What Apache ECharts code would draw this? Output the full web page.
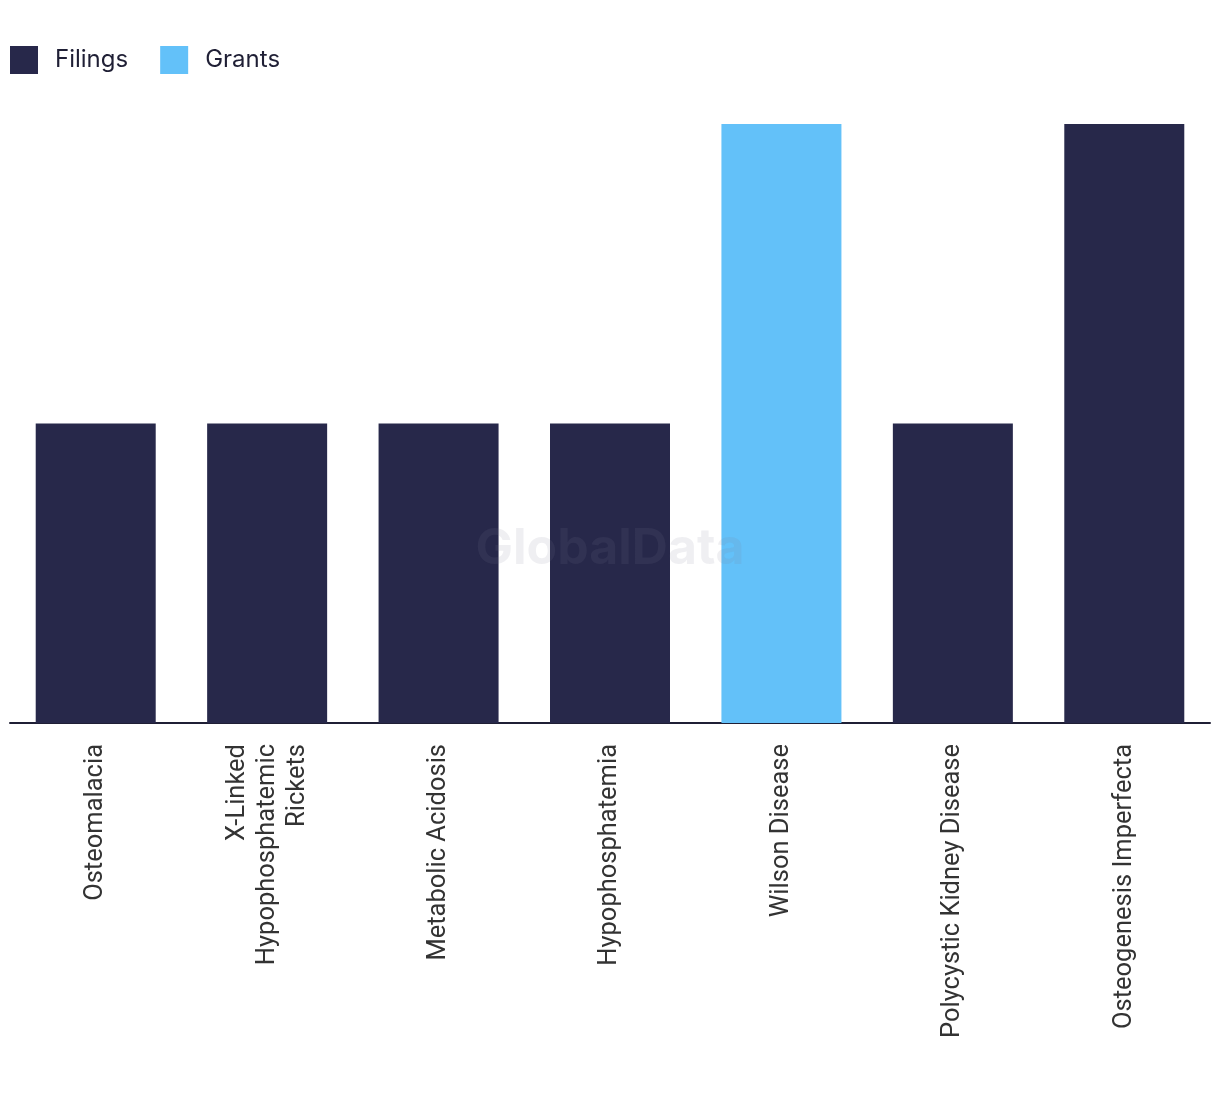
<!DOCTYPE html>
<html><head><meta charset="utf-8">
<script src="https://cdn.jsdelivr.net/npm/echarts@6/dist/echarts.min.js"></script>
<style>html,body{margin:0;padding:0;background:#fff}#c{width:1220px;height:1094px}</style>
</head><body><div id="c"></div>
<script>
const categories = ["Osteomalacia","X-Linked\nHypophosphatemic\nRickets","Metabolic Acidosis","Hypophosphatemia","Wilson Disease","Polycystic Kidney Disease","Osteogenesis Imperfecta"];
const filings = [1,1,1,1,0,1,2];
const grants = [0,0,0,0,2,0,0];
const chart = echarts.init(document.getElementById('c'));
chart.setOption({
  animation:false,
  legend:{left:10,top:46,padding:0,itemWidth:28,itemHeight:28,itemGap:32,icon:'rect',
    textStyle:{fontFamily:'Inter',fontSize:24,color:'#1f1f35',padding:[0,0,0,12]},
    data:['Filings','Grants']},
  graphic:[{type:'text',left:'center',top:524,style:{text:'GlobalData',fontFamily:'Inter',fontWeight:'bold',fontSize:50,fill:'rgba(120,120,150,0.12)'}, z:100}],
  grid:{left:10,right:10,top:124,bottom:371,containLabel:false},
  xAxis:{type:'category',data:categories,
    axisLine:{lineStyle:{color:'#1f1f35',width:2}},axisTick:{show:false},
    axisLabel:{rotate:90,interval:0,margin:21,fontFamily:'Roboto',fontSize:25.5,color:'#333',lineHeight:30}},
  yAxis:{type:'value',min:0,max:2,show:false,splitLine:{show:false}},
  series:[
    {name:'Filings',type:'bar',stack:'a',data:filings,barWidth:120,itemStyle:{color:'#27284a'}},
    {name:'Grants',type:'bar',stack:'a',data:grants,barWidth:120,itemStyle:{color:'#63c1f9'}}
  ]
});
</script></body></html>
